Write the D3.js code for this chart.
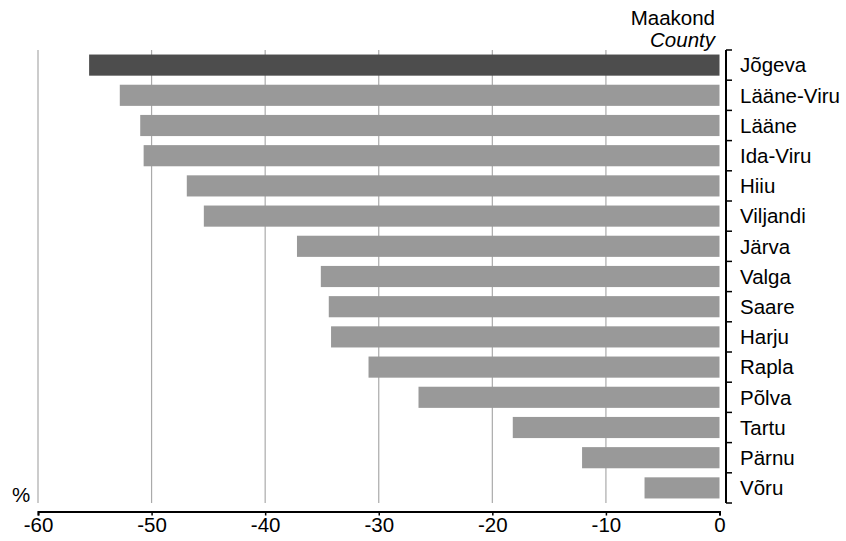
<!DOCTYPE html>
<html><head><meta charset="utf-8">
<script src="https://cdn.jsdelivr.net/npm/d3@7"></script>
<style>body{margin:0;background:#fff}svg{display:block;font-family:Arial,"Liberation Sans",sans-serif}</style>
</head><body><svg id="c" width="846" height="541"></svg>
<script>
const counties = ["Jõgeva","Lääne-Viru","Lääne","Ida-Viru","Hiiu","Viljandi","Järva","Valga","Saare","Harju","Rapla","Põlva","Tartu","Pärnu","Võru"];
const values = [-55.5,-52.8,-51.0,-50.7,-46.9,-45.4,-37.2,-35.1,-34.4,-34.2,-30.9,-26.5,-18.2,-12.1,-6.6];
const highlight = ["Jõgeva"];
const xTicks = [-60,-50,-40,-30,-20,-10,0];

const FS = 20.5;
const svg = d3.select("#c");
const x = d3.scaleLinear().domain([-60,0]).range([38,719.5]);
const y = d3.scaleBand().domain(counties).range([50,503]).paddingInner(0.3).paddingOuter(0.15);
const yb = d3.scaleBand().domain(counties).range([50,503]);

// gridlines
svg.append("g").selectAll("line").data(xTicks.filter(d=>d!==0)).join("line")
  .attr("x1",d=>x(d)).attr("x2",d=>x(d)).attr("y1",50).attr("y2",503)
  .attr("stroke","#aaaaaa").attr("stroke-width",1.2);

// bars
svg.append("g").selectAll("rect").data(counties).join("rect")
  .attr("x",(d,i)=>x(values[i])).attr("width",(d,i)=>x(0)-x(values[i]))
  .attr("y",d=>y(d)).attr("height",y.bandwidth())
  .attr("fill",d=>highlight.includes(d)?"#4d4d4d":"#999999");

// x axis
const xa = svg.append("g").attr("transform","translate(0,511.5)")
  .call(d3.axisBottom(x).tickValues(xTicks).tickSize(4).tickPadding(2).tickFormat(d=>String(d)));
xa.select(".domain").attr("stroke","#000").attr("stroke-width",2);
xa.selectAll(".tick line").attr("stroke","#000").attr("stroke-width",1.5);
xa.selectAll(".tick text").attr("font-size",FS).attr("fill","#000").attr("font-family","Arial,'Liberation Sans',sans-serif");

// y axis (right side)
const ya = svg.append("g").attr("transform","translate(726,0)");
ya.append("line").attr("x1",0).attr("x2",0).attr("y1",50).attr("y2",503).attr("stroke","#000").attr("stroke-width",2);
const bounds = counties.map(d=>yb(d)).concat([503]);
ya.selectAll("line.t").data(bounds).join("line").attr("class","t")
  .attr("x1",0).attr("x2",6).attr("y1",d=>d).attr("y2",d=>d).attr("stroke","#000").attr("stroke-width",1.5);
ya.selectAll("text").data(counties).join("text")
  .attr("x",14).attr("y",d=>yb(d)+yb.bandwidth()/2).attr("dy","0.36em")
  .attr("font-size",FS).attr("fill","#000").text(d=>d);

// titles
svg.append("text").attr("x",715).attr("y",25).attr("text-anchor","end").attr("font-size",FS).text("Maakond");
svg.append("text").attr("x",715).attr("y",46.5).attr("text-anchor","end").attr("font-size",FS).attr("font-style","italic").text("County");
svg.append("text").attr("x",12).attr("y",502).attr("font-size",FS).text("%");
</script></body></html>
